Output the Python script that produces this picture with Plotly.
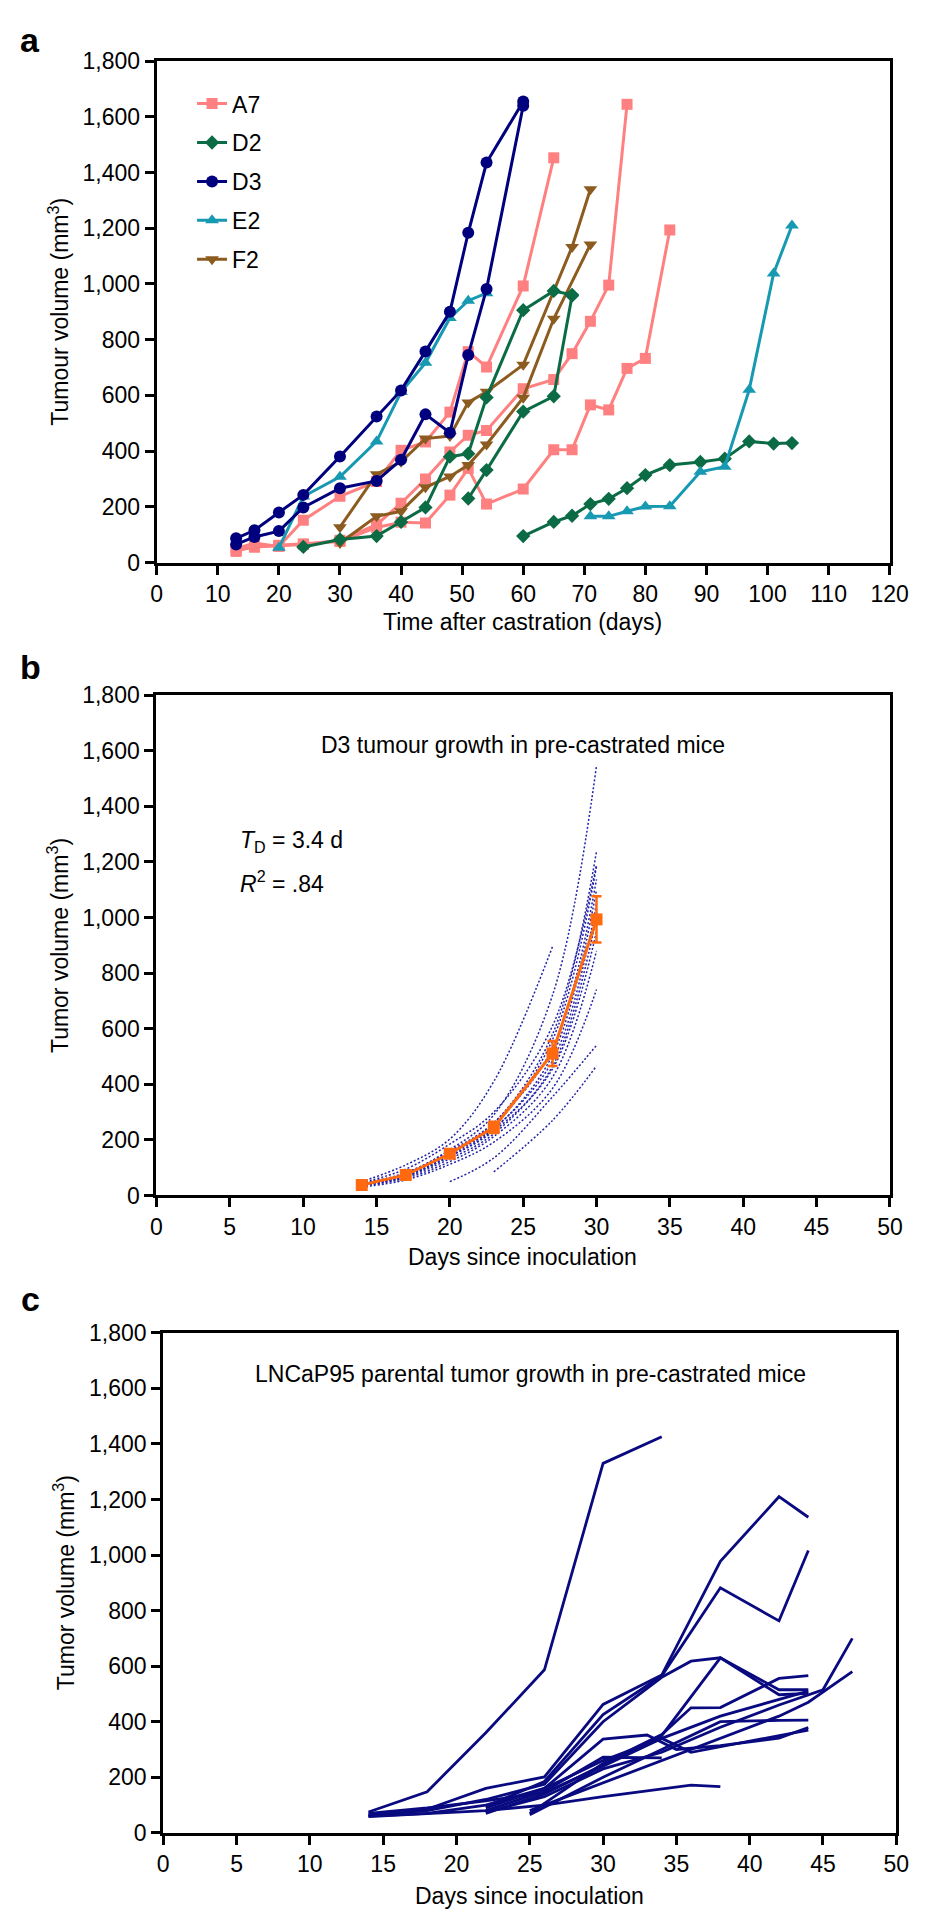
import plotly.graph_objects as go

FONT = "Liberation Sans, Arial, sans-serif"
W, H = 925, 1920
FS = 23

# ---------------- Panel a: tumour growth after castration ----------------
strains = ["A7", "D2", "D3", "E2", "F2"]
strain_colors = ["#FF8080", "#0B6B45", "#00007F", "#1799B1", "#8C5B1F"]
strain_symbols = ["square", "diamond", "circle", "triangle-up", "triangle-down"]
strain_sizes = [11, 11, 12, 12, 12]

A7_days = [[13, 16, 20, 24, 30, 36, 40, 44, 48, 51, 54, 60, 65],
           [13, 16, 20, 24, 30, 36, 40, 44, 48, 51, 54, 60, 65, 68, 71, 74, 77],
           [13, 16, 20, 24, 30, 36, 40, 44, 48, 51, 54, 60, 65, 68, 71, 74, 77, 80, 84]]
A7_vol = [[50, 70, 58, 152, 238, 291, 403, 433, 540, 757, 702, 993, 1453],
          [40, 58, 60, 65, 80, 136, 213, 300, 397, 457, 474, 624, 657, 750, 866, 996, 1645],
          [45, 55, 62, 67, 76, 126, 145, 142, 242, 338, 210, 264, 405, 405, 566, 548, 697, 733, 1194]]

D2_days = [[24, 30, 36, 40, 44, 48, 51, 54, 60, 65, 68],
           [51, 54, 60, 65, 68],
           [60, 65, 68, 71, 74, 77, 80, 84, 89, 93, 97, 101, 104]]
D2_vol = [[56, 83, 95, 146, 198, 380, 391, 593, 906, 975, 961],
          [230, 332, 542, 597, 958],
          [95, 146, 168, 210, 229, 267, 314, 350, 361, 373, 435, 427, 429]]

D3_days = [[13, 16, 20, 24, 30, 36, 40, 44, 48, 51, 54, 60],
           [13, 16, 20, 24, 30, 36, 40, 44, 48, 51, 54, 60]]
D3_vol = [[87, 116, 180, 243, 381, 524, 618, 758, 900, 1184, 1436, 1655],
          [65, 92, 113, 198, 267, 293, 369, 532, 466, 745, 982, 1640]]

E2_days = [[20, 24, 30, 36, 40, 44, 48, 51, 54],
           [71, 74, 77, 80, 84, 89, 93, 97, 101, 104]]
E2_vol = [[53, 237, 308, 435, 612, 717, 878, 940, 967],
          [166, 166, 184, 201, 202, 326, 344, 620, 1038, 1210]]

F2_days = [[30, 36, 40, 44, 48, 51, 54, 60, 68, 71],
           [30, 36, 40, 44, 48, 51, 54, 60, 65, 71]]
F2_vol = [[127, 317, 362, 445, 454, 575, 613, 710, 1133, 1340],
          [70, 166, 184, 270, 309, 350, 424, 592, 875, 1142]]

# ---------------- Panel b: D3 in pre-castrated mice ----------------
b_days = [14, 17, 20, 23, 27, 30]
b_mean = [38, 74, 150, 245, 511, 993]
b_err = [4, 6, 10, 20, 45, 83]
b_mice = [
    [50, 110, 203, 410, 895, None],
    [45, 80, 165, 290, 720, 1546],
    [40, 78, 155, 260, 580, 1238],
    [38, 72, 148, 250, 560, 1184],
    [42, 82, 160, 262, 530, 1137],
    [36, 70, 142, 238, 505, 1100],
    [38, 75, 150, 242, 485, 1050],
    [35, 66, 132, 222, 465, 1000],
    [40, 70, 140, 232, 455, 950],
    [34, 62, 122, 212, 425, 880],
    [30, 56, 112, 192, 385, 741],
    [None, None, 50, 135, 355, 540],
    [None, None, None, 85, 270, 466],
    [46, 95, 185, 300, 610, 1190],
]

# ---------------- Panel c: LNCaP95 parental ----------------
c_days = [
    [14, 18, 22, 26, 30, 34],
    [14, 18, 22, 26, 30, 34, 38, 42, 44],
    [22, 26, 30, 34, 38, 42, 44],
    [14, 18, 22, 26, 30, 34, 36, 38, 42, 44],
    [25, 30, 34, 36, 38, 42, 44],
    [14, 18, 22, 26, 30, 33, 35, 38, 42, 44],
    [14, 18, 22, 26, 30, 36, 38],
    [22, 26, 30, 34],
    [22, 26, 30, 34, 38, 42, 44],
    [25, 30, 34, 38, 42, 44],
    [22, 26, 30, 34, 38, 42, 45, 47],
    [25, 30, 34, 38, 42, 44, 47],
    [14, 18, 22, 26, 30, 34, 38, 42, 44],
    [22, 26, 30, 34, 36, 38, 44],
]
c_vol = [
    [75, 148, 360, 587, 1330, 1426],
    [65, 85, 160, 201, 462, 568, 977, 1210, 1136],
    [95, 185, 426, 565, 882, 763, 1016],
    [62, 80, 120, 175, 400, 560, 618, 630, 497, 502],
    [70, 250, 354, 450, 451, 556, 566],
    [60, 70, 100, 160, 337, 352, 300, 314, 341, 379],
    [58, 68, 80, 100, 130, 172, 166],
    [80, 150, 272, 270],
    [70, 140, 245, 350, 630, 515, 515],
    [65, 200, 300, 400, 405, 406],
    [75, 130, 230, 290, 380, 460, 515, 700],
    [80, 180, 260, 340, 420, 470, 580],
    [70, 90, 115, 145, 240, 340, 420, 480, 510],
    [90, 160, 260, 340, 290, 310, 370],
]

fig = go.Figure()

# Panel a traces (draw order: A7, F2, D2, E2, D3)
series = {
    "A7": (A7_days, A7_vol),
    "D2": (D2_days, D2_vol),
    "D3": (D3_days, D3_vol),
    "E2": (E2_days, E2_vol),
    "F2": (F2_days, F2_vol),
}
draw_order = ["A7", "F2", "D2", "E2", "D3"]
for name in draw_order:
    i = strains.index(name)
    days, vols = series[name]
    for k, (dx, vy) in enumerate(zip(days, vols)):
        fig.add_trace(go.Scatter(
            x=dx, y=vy, mode="lines+markers", name=name,
            legendgroup=name, showlegend=(k == 0), legendrank=i + 1,
            line=dict(color=strain_colors[i], width=3),
            marker=dict(symbol=strain_symbols[i], size=strain_sizes[i],
                        color=strain_colors[i], line=dict(width=0)),
            xaxis="x", yaxis="y", cliponaxis=False))

# Panel b traces
for mv in b_mice:
    fig.add_trace(go.Scatter(
        x=b_days, y=mv, mode="lines", showlegend=False,
        line=dict(color="#2323A8", width=1.5, dash="2px,2px", shape="spline", smoothing=1),
        xaxis="x2", yaxis="y2"))
fig.add_trace(go.Scatter(
    x=b_days, y=b_mean, mode="lines+markers", showlegend=False,
    line=dict(color="#FF6A10", width=3),
    marker=dict(symbol="square", size=12, color="#FF6A10"),
    error_y=dict(type="data", array=b_err, color="#FF6A10", thickness=2.5, width=5),
    xaxis="x2", yaxis="y2"))

# Panel c traces
for dx, vy in zip(c_days, c_vol):
    fig.add_trace(go.Scatter(
        x=dx, y=vy, mode="lines", showlegend=False,
        line=dict(color="#0A0A80", width=2.8),
        xaxis="x3", yaxis="y3"))


def px_x(p):
    return p / W


def px_y(p):
    return 1 - p / H


axis_common = dict(showline=True, linewidth=3, linecolor="black", mirror=True,
                   ticks="outside", ticklen=9, tickwidth=3, tickcolor="black",
                   showgrid=False, zeroline=False, fixedrange=True,
                   tickfont=dict(family=FONT, size=FS, color="black"))

fig.update_layout(
    width=W, height=H, margin=dict(l=0, r=0, t=0, b=0),
    paper_bgcolor="white", plot_bgcolor="white",
    font=dict(family=FONT, color="black"),
    xaxis=dict(domain=[px_x(146.7), px_x(900)], range=[0, 120], dtick=10, tick0=0,
               anchor="y", **axis_common),
    yaxis=dict(domain=[px_y(549), px_y(40.7)], range=[0, 1800], dtick=200, tick0=0,
               tickformat=",d", anchor="x", **axis_common),
    xaxis2=dict(domain=[px_x(146.3), px_x(900.3)], range=[0, 50], dtick=5, tick0=0,
                anchor="y2", **axis_common),
    yaxis2=dict(domain=[px_y(1190.6), px_y(683.3)], range=[0, 1800], dtick=200, tick0=0,
                tickformat=",d", anchor="x2", **axis_common),
    xaxis3=dict(domain=[px_x(153.4), px_x(906.8)], range=[0, 50], dtick=5, tick0=0,
                anchor="y3", **axis_common),
    yaxis3=dict(domain=[px_y(1836.7), px_y(1329.8)], range=[0, 1800], dtick=200, tick0=0,
                tickformat=",d", anchor="x3", **axis_common),
    legend=dict(x=px_x(183), y=px_y(62), xanchor="left", yanchor="top",
                bgcolor="rgba(0,0,0,0)", borderwidth=0,
                font=dict(family=FONT, size=FS, color="black"),
                tracegroupgap=6, itemsizing="trace"),
)

ann = []


def add_text(text, x, y, size=FS, angle=0, xanchor="center", bold=False):
    ann.append(dict(text=(f"<b>{text}</b>" if bold else text), x=px_x(x), y=px_y(y),
                    xref="paper", yref="paper", showarrow=False, textangle=angle,
                    xanchor=xanchor, yanchor="middle",
                    font=dict(family=FONT, size=size, color="black")))


# Panel labels
add_text("a", 16, 19, size=34, bold=True)
add_text("b", 17, 655, size=34, bold=True)
add_text("c", 17, 1296, size=34, bold=True)

# Axis titles
add_text("Time after castration (days)", 523, 609)
add_text("Tumour volume (mm<sup>3</sup>)", 46, 295, angle=-90)
add_text("Days since inoculation", 523, 1253)
add_text("Tumor volume (mm<sup>3</sup>)", 46, 937, angle=-90)
add_text("Days since inoculation", 530, 1901)
add_text("Tumor volume (mm<sup>3</sup>)", 51, 1583, angle=-90)

# In-plot texts
add_text("D3 tumour growth in pre-castrated mice", 523, 733.5)
add_text("<i>T</i><sub>D</sub> = 3.4 d", 230, 832, xanchor="left")
add_text("<i>R</i><sup>2</sup> = .84", 230, 873, xanchor="left")
add_text("LNCaP95 parental tumor growth in pre-castrated mice", 531, 1372)

fig.update_layout(annotations=ann)

fig.write_html("out.html")
